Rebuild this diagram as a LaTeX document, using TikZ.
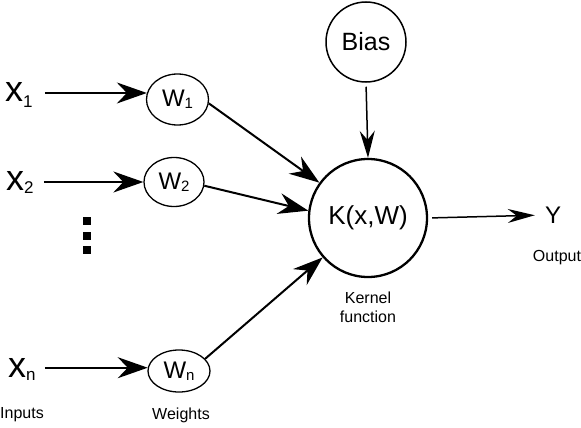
\documentclass[tikz,border=0pt]{standalone}
\usepackage{fontspec}
\setmainfont{Liberation Sans}
\usetikzlibrary{arrows.meta,shapes.geometric,calc}
\newcommand{\myfs}[1]{\fontsize{#1}{#1}\selectfont}
\begin{document}
\begin{tikzpicture}[x=1pt,y=-1pt,
  wnode/.style={draw,ellipse,line width=1.3pt,inner sep=0pt,font=\myfs{24}},
  xlab/.style={anchor=base west,inner sep=0pt,font=\myfs{36}},
  caption/.style={inner sep=0pt,font=\myfs{16},align=center},
  dotsq/.style={fill=black,draw=none,minimum size=8pt,inner sep=0pt},
  inarr/.style={line width=2pt,-{Stealth[length=30pt,width=21pt,inset=10pt]}},
  warr/.style={line width=2pt,-{Stealth[length=30pt,width=21pt,inset=10pt]}},
  barr/.style={line width=1.5pt,-{Stealth[length=27pt,width=15pt,inset=9pt]}},
  oarr/.style={line width=1.5pt,-{Stealth[length=27pt,width=14pt,inset=9pt]}}]
\useasboundingbox (0,0) rectangle (581,428);

% weight ellipses
\node[wnode,minimum width=62pt,minimum height=51pt] (w1) at (177.5,99.5) {W\raisebox{-2pt}{\myfs{15}1}};
\node[wnode,minimum width=60pt,minimum height=49pt] (w2) at (174,182) {W\raisebox{-2pt}{\myfs{15}2}};
\node[wnode,minimum width=62pt,minimum height=42pt] (wn) at (179,371) {W\raisebox{-2pt}{\myfs{15}n}};

% kernel and bias
\node[draw,circle,line width=2.3pt,minimum size=118pt,inner sep=0pt,font=\myfs{26}] (k) at (368,218) {K(x,W)};
\node[draw,circle,line width=1.5pt,minimum size=80pt,inner sep=0pt,font=\myfs{25}] (bias) at (366,42) {Bias};
\node[inner sep=0pt,font=\myfs{24}] (y) at (553,215) {Y};

% inputs
\node[xlab] (x1) at (5,101) {x\raisebox{-6pt}{\myfs{17}1}};
\node[xlab] (x2) at (6,190) {x\raisebox{-3pt}{\myfs{17}2}};
\node[xlab] (xn) at (8,377) {x\raisebox{-3pt}{\myfs{17}n}};

% dots
\node[dotsq] (d1) at (86.7,221) {};
\node[dotsq] (d2) at (86.7,235.5) {};
\node[dotsq] (d3) at (86.7,250) {};

% captions
\node[caption] (lin) at (22,415) {Inputs};
\node[caption] (lw) at (181,415) {Weights};
\node[caption] (lk) at (368,307) {Kernel\\[3pt]function};
\node[caption] (lo) at (557,258) {Output};

% connectors
\draw[inarr] ($(x1.east |- w1.168)+(12,0)$) -- (w1.168);
\draw[inarr] ($(x2.east |- w2.west)+(10,0)$) -- (w2.west);
\draw[inarr] ($(xn.east |- wn.174)+(9,0)$) -- (wn.174);

\draw[warr] (w1.-7) -- (k.144);
\draw[warr] (w2.-7) -- (k.173);
\draw[warr] (wn.25) -- (k.221);

\draw[barr,shorten <=4pt] (bias.south) -- (k.north);
\draw[oarr,shorten <=4pt,shorten >=10pt] (k.east) -- (y.west);
\end{tikzpicture}
\end{document}
